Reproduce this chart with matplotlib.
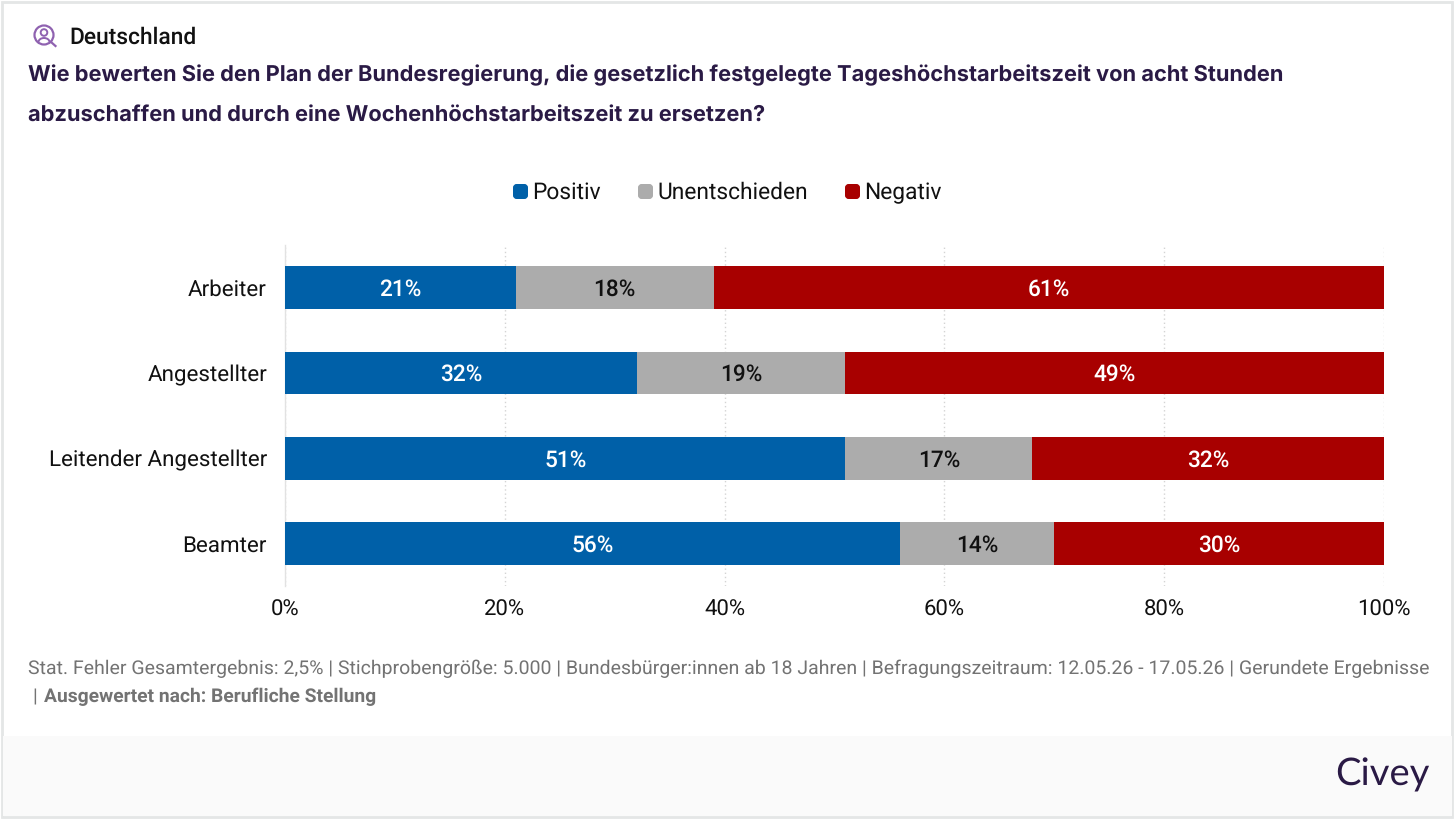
import matplotlib
matplotlib.use('Agg')
import matplotlib.pyplot as plt
from matplotlib.lines import Line2D
from matplotlib.patches import Rectangle, Circle, Arc, BoxStyle

W, H = 1456, 819

# data
categories = ['Arbeiter', 'Angestellter', 'Leitender Angestellter', 'Beamter']
positiv = [21, 32, 51, 56]
unentschieden = [18, 19, 17, 14]
negativ = [61, 49, 32, 30]
series_names = ['Positiv', 'Unentschieden', 'Negativ']
x_ticks = [0, 20, 40, 60, 80, 100]

colors = ['#0060a8', '#acacac', '#a80000']
label_colors = ['white', '#111111', 'white']
title_color = '#2a1a45'

plt.rcParams['font.family'] = ['Roboto', 'DejaVu Sans']
plt.rcParams['text.hinting'] = 'no_hinting'
plt.rcParams['text.hinting_factor'] = 8

fig = plt.figure(figsize=(W / 100, H / 100), dpi=100, facecolor='white')


def fx(x):
    return x / W


def fy(y):
    return 1 - y / H


# card background, border and footer band
fig.add_artist(Rectangle((fx(2), fy(817)), 1450 / W, 815 / H, transform=fig.transFigure,
                         facecolor='white', edgecolor='#e4e6e6', linewidth=2, zorder=-2))
fig.add_artist(Rectangle((fx(3), fy(816)), 1449 / W, 80 / H, transform=fig.transFigure,
                         facecolor='#fafafa', edgecolor='none', zorder=-1))

# chart
ax = fig.add_axes([fx(285), fy(586.3), (1384 - 285) / W, (586.3 - 245) / H])
ax.set_facecolor('none')
left = [0] * len(categories)
for name, vals, col, lc in zip(series_names, [positiv, unentschieden, negativ], colors, label_colors):
    bars = ax.barh(categories, vals, left=left, height=0.5, color=col, label=name, zorder=3)
    texts = ax.bar_label(bars, labels=[f'{v}%' for v in vals], label_type='center',
                         color=lc, fontsize=16.3, fontweight='medium', zorder=4)
    for t in texts:
        t.xyann = (0, -1.2)
    left = [a + b for a, b in zip(left, vals)]

ax.set_xlim(0, 100)
ax.set_ylim(3.5, -0.5)
ax.set_xticks(x_ticks)
ax.set_xticklabels([f'{t}%' for t in x_ticks])
ax.grid(axis='x', color='#d4d4d4', linestyle=(0, (1, 2)), linewidth=1, zorder=0)
ax.tick_params(axis='x', length=0, labelsize=15.9, labelcolor='#111111', pad=9)
ax.tick_params(axis='y', length=0, labelsize=16.15, labelcolor='#111111', pad=13)
for side in ['top', 'right', 'bottom']:
    ax.spines[side].set_visible(False)
ax.spines['left'].set_color('#e2e2e2')
ax.spines['left'].set_linewidth(1)

# legend, rounded squares
rounded = BoxStyle.Round(pad=0, rounding_size=0.22)(-0.5, -0.5, 1, 1, 1)
handles = [Line2D([], [], linestyle='none', marker=rounded, markersize=9.8, color=c, label=n)
           for c, n in zip(colors, series_names)]
fig.legend(handles=handles, ncol=3, loc='center', bbox_to_anchor=(fx(727.5), fy(193)),
           frameon=False, fontsize=16.4, handlelength=0.6, handletextpad=0.25, columnspacing=1.62,
           labelcolor='#111111', borderpad=0)

# header
fig.text(fx(69.5), fy(37), 'Deutschland', fontsize=16.4, fontweight='medium',
         color='#111111', va='center', ha='left')
title_font = ['Inter', 'DejaVu Sans']
fig.text(fx(28), fy(75), 'Wie bewerten Sie den Plan der Bundesregierung, die gesetzlich festgelegte '
         'Tageshöchstarbeitszeit von acht Stunden', fontsize=15.72, fontweight='bold',
         family=title_font, color=title_color, va='center', ha='left')
fig.text(fx(28), fy(115), 'abzuschaffen und durch eine Wochenhöchstarbeitszeit zu ersetzen?',
         fontsize=15.72, fontweight='bold', family=title_font, color=title_color,
         va='center', ha='left')

# search icon
icon = fig.add_axes([0, 0, 1, 1], facecolor='none')
icon.set_xlim(0, W)
icon.set_ylim(H, 0)
icon.axis('off')
purple = '#8f62b0'
icon.add_patch(Circle((44, 35), 9.5, fill=False, edgecolor=purple, linewidth=1.6))
icon.add_patch(Circle((44, 32.5), 3.3, fill=False, edgecolor=purple, linewidth=1.4))
icon.add_patch(Arc((44, 42), 11, 8, theta1=180, theta2=360, edgecolor=purple, linewidth=1.4))
icon.plot([51, 55.5], [42, 46], color=purple, linewidth=1.6)

# footer
fig.text(fx(28), fy(669), 'Stat. Fehler Gesamtergebnis: 2,5% | Stichprobengröße: 5.000 | Bundesbürger:innen ab 18 Jahren | '
         'Befragungszeitraum: 12.05.26 - 17.05.26 | Gerundete Ergebnisse',
         fontsize=14.0, color='#737373', va='center', ha='left')
fig.text(fx(32), fy(697), '|', fontsize=14.0, color='#737373', va='center', ha='left')
fig.text(fx(44), fy(697), 'Ausgewertet nach: Berufliche Stellung', fontsize=13.85, fontweight='bold',
         color='#737373', va='center', ha='left')
fig.text(fx(1430), fy(775), 'Civey', fontsize=27.5, family=['Lato', 'DejaVu Sans'],
         color=title_color, va='center', ha='right')

fig.savefig('out.png', dpi=100)
